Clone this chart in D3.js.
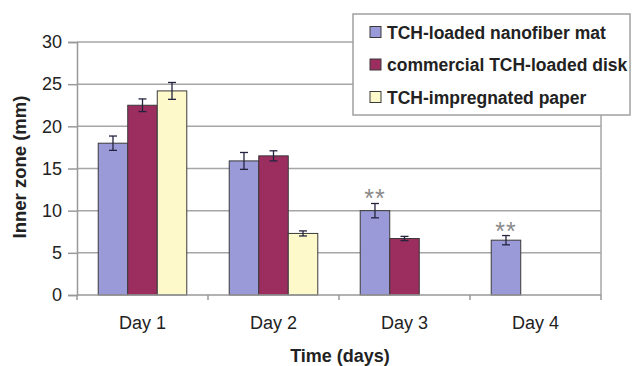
<!DOCTYPE html>
<html>
<head>
<meta charset="utf-8">
<script src="https://cdn.jsdelivr.net/npm/d3@7"></script>
<style>
  html, body { margin: 0; padding: 0; background: #fff; }
  svg { display: block; font-family: "Liberation Sans", Arial, sans-serif; }
</style>
</head>
<body>
<svg id="chart" width="632" height="366"></svg>
<script>
// Inhibition zone measurements per day
const days = ["Day 1", "Day 2", "Day 3", "Day 4"];
const seriesNames = ["TCH-loaded nanofiber mat", "commercial TCH-loaded disk", "TCH-impregnated paper"];
const nanofiberMat = [18.0, 15.9, 10.0, 6.5];
const commercialDisk = [22.5, 16.5, 6.7, null];
const impregnatedPaper = [24.2, 7.3, null, null];
const nanofiberErr = [0.85, 1.0, 0.85, 0.55];
const diskErr = [0.75, 0.6, 0.25, null];
const paperErr = [1.0, 0.3, null, null];
const nanofiberMarks = ["", "", "**", "**"];
const yTicks = [0, 5, 10, 15, 20, 25, 30];

const colors = ["#9a9ad8", "#9b2d5f", "#fdf9cb"];
const values = [nanofiberMat, commercialDisk, impregnatedPaper];
const errors = [nanofiberErr, diskErr, paperErr];
const marks = [nanofiberMarks, days.map(() => ""), days.map(() => "")];

const svg = d3.select("#chart");
const plotLeft = 77, plotRight = 601, plotTop = 42, plotBottom = 295;

const y = d3.scaleLinear().domain([0, 30]).range([plotBottom, plotTop]);
const x = d3.scaleBand().domain(days).range([plotLeft, plotRight])
  .paddingInner(0.324).paddingOuter(0.162);
const xs = d3.scaleBand().domain(d3.range(seriesNames.length)).range([0, x.bandwidth()]);
const step = x.step();

// horizontal gridlines
svg.append("g").selectAll("line").data(yTicks.filter(t => t > 0)).join("line")
  .attr("x1", plotLeft).attr("x2", plotRight)
  .attr("y1", d => y(d)).attr("y2", d => y(d))
  .attr("stroke", "#a6a6a6").attr("stroke-width", 1.5);

// right border of plot area
svg.append("line").attr("x1", plotRight).attr("x2", plotRight).attr("y1", plotTop).attr("y2", plotBottom)
  .attr("stroke", "#a6a6a6").attr("stroke-width", 1.5);

// y axis
const yAxis = svg.append("g").attr("transform", `translate(${plotLeft},0)`)
  .call(d3.axisLeft(y).tickValues(yTicks).tickSize(9).tickPadding(6));
yAxis.select(".domain").attr("stroke", "#999").attr("stroke-width", 1.5);
yAxis.selectAll(".tick line").attr("stroke", "#999").attr("stroke-width", 1.5);
yAxis.selectAll("text").attr("font-size", 18).attr("fill", "#222")
  .attr("font-family", "'Liberation Sans', Arial, sans-serif");

// bars
const rows = [];
values.forEach((vals, s) => vals.forEach((v, i) => {
  if (v !== null) rows.push({ s, day: days[i], v, e: errors[s][i], m: marks[s][i] });
}));

svg.append("g").selectAll("rect").data(rows).join("rect")
  .attr("x", d => x(d.day) + xs(d.s))
  .attr("y", d => y(d.v))
  .attr("width", xs.bandwidth())
  .attr("height", d => y(0) - y(d.v))
  .attr("fill", d => colors[d.s])
  .attr("stroke", "#3a3a3a").attr("stroke-width", 1);

// x axis line and category boundary ticks
svg.append("line").attr("x1", plotLeft).attr("x2", plotRight).attr("y1", plotBottom).attr("y2", plotBottom)
  .attr("stroke", "#999").attr("stroke-width", 1.5);
svg.append("g").selectAll("line").data(d3.range(days.length + 1)).join("line")
  .attr("x1", i => plotLeft + i * step).attr("x2", i => plotLeft + i * step)
  .attr("y1", plotBottom).attr("y2", plotBottom + 5)
  .attr("stroke", "#999").attr("stroke-width", 1.5);

// error bars
const eb = svg.append("g").attr("stroke", "#24243f").attr("stroke-width", 1.3);
rows.forEach(d => {
  const cx = x(d.day) + xs(d.s) + xs.bandwidth() / 2;
  const y1 = y(d.v + d.e), y2 = y(d.v - d.e);
  eb.append("line").attr("x1", cx).attr("x2", cx).attr("y1", y1).attr("y2", y2);
  eb.append("line").attr("x1", cx - 4).attr("x2", cx + 4).attr("y1", y1).attr("y2", y1);
  eb.append("line").attr("x1", cx - 4).attr("x2", cx + 4).attr("y1", y2).attr("y2", y2);
});

// significance marks
svg.append("g").selectAll("text").data(rows.filter(d => d.m)).join("text")
  .attr("x", d => x(d.day) + xs(d.s) + xs.bandwidth() / 2)
  .attr("y", d => y(d.v + d.e) + 4)
  .attr("text-anchor", "middle").attr("font-size", 25).attr("letter-spacing", 1)
  .attr("fill", "#8a8a8a")
  .text(d => d.m);

// category labels
svg.append("g").selectAll("text").data(days).join("text")
  .attr("x", d => x(d) + x.bandwidth() / 2).attr("y", 329)
  .attr("text-anchor", "middle").attr("font-size", 18).attr("fill", "#222")
  .text(d => d);

// axis titles
svg.append("text").attr("x", (plotLeft + plotRight) / 2 + 1).attr("y", 362)
  .attr("text-anchor", "middle").attr("font-size", 18).attr("font-weight", "bold").attr("fill", "#222")
  .text("Time (days)");
svg.append("text").attr("transform", "translate(26,167) rotate(-90)")
  .attr("text-anchor", "middle").attr("font-size", 18.5).attr("font-weight", "bold").attr("fill", "#222")
  .text("Inner zone (mm)");

// legend
const lg = svg.append("g");
lg.append("rect").attr("x", 353).attr("y", 14).attr("width", 277).attr("height", 101)
  .attr("fill", "#fff").attr("stroke", "#a0a0a0").attr("stroke-width", 1.5);
const rowY = [32, 64.5, 97];
seriesNames.forEach((name, s) => {
  lg.append("rect").attr("x", 370).attr("y", rowY[s] - 5.5).attr("width", 11).attr("height", 11)
    .attr("fill", colors[s]).attr("stroke", "#3a3a3a").attr("stroke-width", 1);
  lg.append("text").attr("x", 387).attr("y", rowY[s] + 6.5)
    .attr("font-size", 17.5).attr("font-weight", "bold").attr("fill", "#222")
    .text(name);
});
</script>
</body>
</html>
